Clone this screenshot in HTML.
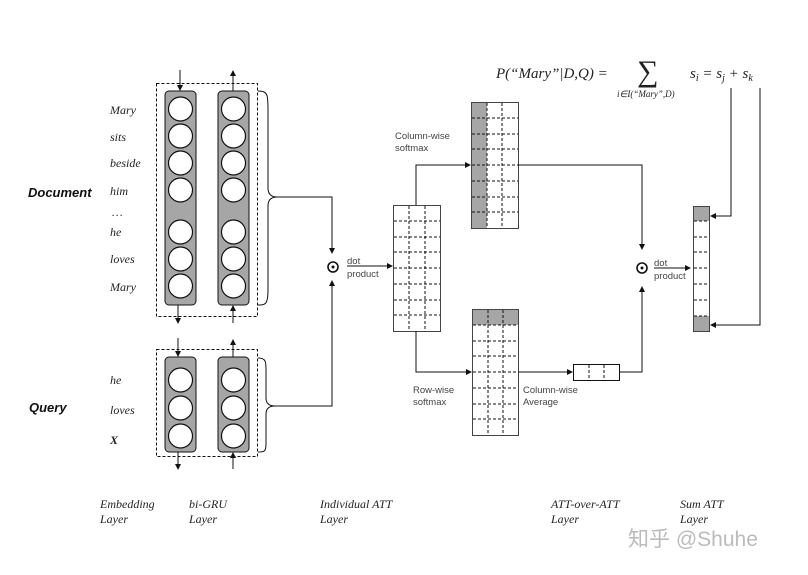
<!DOCTYPE html>
<html><head><meta charset="utf-8"><style>
body{margin:0;background:#fff;width:808px;height:570px;overflow:hidden}
text{font-family:"Liberation Sans",sans-serif}
.it text, text.it{font-family:"Liberation Serif",serif;font-style:italic;font-size:12px;fill:#222}
.sm text{font-size:9.5px;fill:#444}
.fm text{font-family:"Liberation Serif",serif;font-style:italic;fill:#222}
.wm{font-family:"Liberation Sans","Noto Sans CJK SC",sans-serif}
</style></head><body>
<svg width="808" height="570" xmlns="http://www.w3.org/2000/svg">
<defs><marker id="a" markerWidth="6" markerHeight="6" refX="5" refY="3" orient="auto"><path d="M0,0 L6,3 L0,6z" fill="#111"/></marker></defs>
<g stroke="#111" fill="none" stroke-width="1">
<rect x="156.5" y="83.5" width="101" height="233" stroke-dasharray="3,2"/>
<rect x="165" y="91" width="31" height="214" rx="4" fill="#a6a6a6"/>
<rect x="218" y="91" width="31" height="214" rx="4" fill="#a6a6a6"/>
<g fill="#fff" stroke-width="1.2">
<circle cx="180.5" cy="109" r="12"/><circle cx="180.5" cy="136" r="12"/><circle cx="180.5" cy="163" r="12"/><circle cx="180.5" cy="190" r="12"/>
<circle cx="180.5" cy="232" r="12"/><circle cx="180.5" cy="259" r="12"/><circle cx="180.5" cy="286" r="12"/>
<circle cx="233.5" cy="109" r="12"/><circle cx="233.5" cy="136" r="12"/><circle cx="233.5" cy="163" r="12"/><circle cx="233.5" cy="190" r="12"/>
<circle cx="233.5" cy="232" r="12"/><circle cx="233.5" cy="259" r="12"/><circle cx="233.5" cy="286" r="12"/>
</g>
<path d="M180,70 V90" marker-end="url(#a)"/><path d="M233,91 V71" marker-end="url(#a)"/>
<path d="M178,305 V323" marker-end="url(#a)"/><path d="M233,323 V306" marker-end="url(#a)"/>
<path d="M258,91 C268,91 268,95 268,110 V188 C268,195 272,197 277,197 C272,197 268,199 268,206 V290 C268,305 265,305 258,305"/>
<path d="M277,197 H332 V253" marker-end="url(#a)"/>
<rect x="156.5" y="349.5" width="101" height="107" stroke-dasharray="3,2"/>
<rect x="165" y="357" width="31" height="95" rx="4" fill="#a6a6a6"/>
<rect x="218" y="357" width="31" height="95" rx="4" fill="#a6a6a6"/>
<g fill="#fff" stroke-width="1.2">
<circle cx="180.5" cy="380" r="12"/><circle cx="180.5" cy="408" r="12"/><circle cx="180.5" cy="436" r="12"/>
<circle cx="233.5" cy="380" r="12"/><circle cx="233.5" cy="408" r="12"/><circle cx="233.5" cy="436" r="12"/>
</g>
<path d="M178,338 V356" marker-end="url(#a)"/><path d="M233,357 V340" marker-end="url(#a)"/>
<path d="M178,452 V469" marker-end="url(#a)"/><path d="M233,469 V453" marker-end="url(#a)"/>
<path d="M258,358 C266,358 266,362 266,370 V398 C266,404 270,406 275,406 C270,406 266,408 266,414 V444 C266,452 264,452 258,452"/>
<path d="M275,406 H332 V281" marker-end="url(#a)"/>
<circle cx="333" cy="267" r="5" stroke-width="1.6"/>
<path d="M347,266 H392" marker-end="url(#a)"/>
<rect x="393.5" y="205.5" width="47" height="126" stroke="#444"/>
<g stroke-dasharray="3,2"><path d="M409,206 V331 M425,206 V331"/>
<path d="M394,221 H440 M394,237 H440 M394,252 H440 M394,268 H440 M394,284 H440 M394,300 H440 M394,315 H440"/></g>
<path d="M416,205 V165 H470" marker-end="url(#a)"/>
<path d="M416,331 V372 H471" marker-end="url(#a)"/>
<rect x="471" y="102" width="16" height="126" fill="#a6a6a6" stroke="none"/>
<rect x="471.5" y="102.5" width="47" height="126" stroke="#444"/>
<g stroke-dasharray="3,2"><path d="M487,103 V228 M502,103 V228"/>
<path d="M472,118 H518 M472,134 H518 M472,149 H518 M472,165 H518 M472,181 H518 M472,197 H518 M472,212 H518"/></g>
<path d="M518,165 H642 V249" marker-end="url(#a)"/>
<rect x="472" y="309" width="47" height="16" fill="#a6a6a6" stroke="none"/>
<rect x="472.5" y="309.5" width="46" height="126" stroke="#444"/>
<g stroke-dasharray="3,2"><path d="M488,310 V435 M503,310 V435"/>
<path d="M473,325 H518 M473,341 H518 M473,356 H518 M473,372 H518 M473,388 H518 M473,404 H518 M473,419 H518"/></g>
<path d="M518,372 H572" marker-end="url(#a)"/>
<rect x="573.5" y="364.5" width="46" height="16"/>
<path d="M589,365 V380 M604,365 V380" stroke-dasharray="3,2"/>
<path d="M620,372 H642 V287" marker-end="url(#a)"/>
<circle cx="642" cy="268" r="5" stroke-width="1.6"/>
<path d="M654,268 H690" marker-end="url(#a)"/>
<rect x="693" y="206" width="16" height="15" fill="#a6a6a6" stroke="none"/>
<rect x="693" y="316" width="16" height="15" fill="#a6a6a6" stroke="none"/>
<rect x="693.5" y="206.5" width="16" height="125" stroke="#444"/>
<path d="M694,221 H709 M694,237 H709 M694,252 H709 M694,268 H709 M694,284 H709 M694,300 H709 M694,316 H709" stroke-dasharray="3,2"/>
<path d="M731,88 V216 H711" marker-end="url(#a)"/>
<path d="M760,88 V325 H711" marker-end="url(#a)"/>
</g>
<circle cx="333" cy="267" r="1.5" fill="#111"/><circle cx="642" cy="268" r="1.5" fill="#111"/>
<g class="sm"><text x="347" y="264">dot</text><text x="347" y="277">product</text>
<text x="654" y="266">dot</text><text x="654" y="279">product</text>
<text x="395" y="139">Column-wise</text><text x="395" y="151">softmax</text>
<text x="413" y="393">Row-wise</text><text x="413" y="405">softmax</text>
<text x="523" y="393">Column-wise</text><text x="523" y="405">Average</text>
</g>
<g class="it">
<text x="110" y="114">Mary</text><text x="110" y="141">sits</text><text x="110" y="167">beside</text><text x="110" y="195">him</text>
<text x="112" y="216">…</text><text x="110" y="236">he</text><text x="110" y="263">loves</text><text x="110" y="291">Mary</text>
<text x="110" y="384">he</text><text x="110" y="414">loves</text><text x="110" y="444" font-weight="bold">X</text>
<text x="100" y="508">Embedding</text><text x="100" y="523">Layer</text>
<text x="189" y="508">bi-GRU</text><text x="189" y="523">Layer</text>
<text x="320" y="508">Individual ATT</text><text x="320" y="523">Layer</text>
<text x="551" y="508">ATT-over-ATT</text><text x="551" y="523">Layer</text>
<text x="680" y="508">Sum ATT</text><text x="680" y="523">Layer</text>
</g>
<text x="28" y="197" font-size="13" font-weight="bold" font-style="italic" fill="#111">Document</text>
<text x="29" y="412" font-size="13" font-weight="bold" font-style="italic" fill="#111">Query</text>
<g class="fm">
<text x="496" y="78" font-size="15">P(“Mary”|D,Q) =</text>
<text x="637" y="81" font-size="30" style="font-style:normal">∑</text>
<text x="617" y="97" font-size="9">i∈I(“Mary”,D)</text>
<text x="690" y="78" font-size="15">s<tspan font-size="10" dy="3">i</tspan><tspan dy="-3"> = s</tspan><tspan font-size="10" dy="3">j</tspan><tspan dy="-3"> + s</tspan><tspan font-size="10" dy="3">k</tspan></text>
</g>
<text class="wm" x="628" y="546" font-size="21" fill="#bbb">知乎 @Shuhe</text>
</svg>
</body></html>
